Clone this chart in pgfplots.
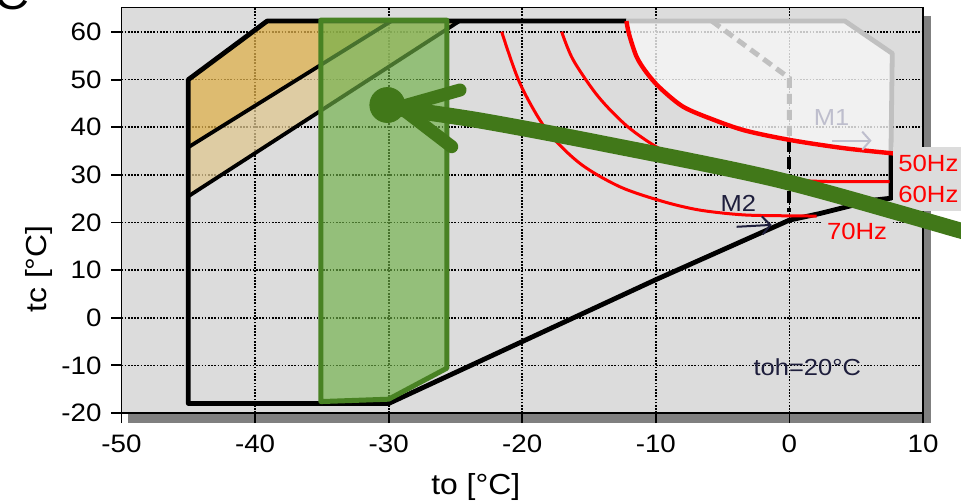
\documentclass[border=0pt]{standalone}
\usepackage{fontspec}
\setmainfont{Liberation Sans}[FakeStretch=1.1]
\usepackage{pgfplots}
\pgfplotsset{compat=1.18}
\usetikzlibrary{arrows.meta}
\definecolor{bgc}{RGB}{220,220,220}
\definecolor{shadowc}{RGB}{128,128,128}
\definecolor{orangeA}{RGB}{222,176,76}
\definecolor{tanB}{RGB}{224,199,145}
\definecolor{greenF}{RGB}{110,176,70}
\definecolor{greenE}{RGB}{72,130,35}
\definecolor{greenA}{RGB}{65,120,25}
\definecolor{grayL}{RGB}{192,192,192}
\definecolor{navy}{RGB}{30,30,60}
\definecolor{mone}{RGB}{190,190,205}
\begin{document}
\begin{tikzpicture}
\fill[shadowc] (3.25pt,-5pt) rectangle (404.75pt,198.5pt);
\begin{axis}[name=ax, at={(0,0)}, anchor=south west, scale only axis,
  width=400.75pt, height=202.75pt,
  xmin=-50, xmax=10, ymin=-20, ymax=65.15,
  xtick={-50,-40,...,10}, ytick={-20,-10,...,60},
  tick align=outside, xtick pos=bottom, ytick pos=left, major tick length=5pt,
  tick style={black, line width=0.9pt},
  axis line style={black, line width=0.9pt},
  axis background/.style={fill=bgc},
  grid=major, major grid style={black, line width=0.85pt, dash pattern=on 0.85pt off 0.75pt},
  /pgf/number format/assume math mode=true,
  ticklabel style={font=\fontsize{12.6}{14}\selectfont},
  xticklabel style={yshift=-2.5pt},
  yticklabel style={xshift=-1.5pt},
  xlabel={to [°C]}, ylabel={tc [°C]},
  label style={font=\fontsize{14.5}{16}\selectfont},
  xlabel style={at={(axis description cs:0.442,-0.2022)}, anchor=base},
  ylabel style={at={(axis description cs:-0.0933,0.355)}, anchor=base},
  clip=false,
]
% orange bands
\addplot[draw=none, fill=orangeA, fill opacity=0.75] coordinates {(-45,50) (-39.1,62.3) (-29.8,62.3) (-45,35.8)} -- cycle;
\addplot[draw=none, fill=tanB, fill opacity=0.75] coordinates {(-45,35.8) (-29.8,62.3) (-24.7,62.3) (-45,25.5)} -- cycle;
% light region above 50Hz
\addplot[draw=none, fill=white!97!black, fill opacity=0.8] coordinates {(-12.2,62.3) (4.16,62.3) (7.7,55.5) (7.6,34.5) (4.1,35.6) (0.1,37.3) (-3.3,39.3) (-5.7,41.6) (-7.95,44.3) (-9.7,48.3) (-10.7,51.5) (-11.44,54.8) (-12.0,59.5)} -- cycle;
% black envelope
\addplot[black, line width=2.4pt, line join=round] coordinates {(-12.2,62.3) (-39.1,62.3) (-45,50) (-45,-18) (-30,-18) (-20,-5) (-10,8) (0,20.5) (2.3,21.9) (6.3,24.7) (7.6,25.1) (7.6,34.4)};
\addplot[black, line width=1.9pt] coordinates {(-45,35.8) (-29.8,62.3)};
\addplot[black, line width=1.9pt] coordinates {(-45,25.5) (-24.7,62.3)};
% green box
\addplot[draw=greenE, line width=2.5pt, fill=greenF, fill opacity=0.65, line join=round] coordinates {(-35.08,62.5) (-25.65,62.5) (-25.65,-10.6) (-30,-17.1) (-33,-17.4) (-35.08,-17.6)} -- cycle;
% red 70Hz and 60Hz
\addplot[red, line width=1.5pt, smooth] coordinates {(-21.54,60.06) (-20.17,49.2) (-18.17,39.4) (-15.68,32.4) (-12.69,27.5) (-9.45,24.4) (-6.7,22.6) (-3.44,21.6) (0,21.4) (2.04,21.36)};
\addplot[red, line width=1.5pt, smooth] coordinates {(-17.05,60.06) (-16.18,54.1) (-14.3,46.4) (-12.1,40.1) (-9.6,35.3) (-6.8,31.9) (-3.3,29.7) (0.3,28.9) (3,28.6) (7.5,28.6)};
% gray envelope and dashed limits
\addplot[grayL, line width=2.4pt, line join=round] coordinates {(-12.2,62.3) (4.16,62.3) (7.7,55.5) (7.6,34.4)};
\addplot[grayL, line width=2.5pt, dash pattern=on 5pt off 3pt] coordinates {(-5.8,62.3) (0,50.3) (0,37.3)};
\addplot[black, line width=2pt, dash pattern=on 6pt off 2.5pt] coordinates {(0,37.3) (0,22.3)};
% red 50Hz
\addplot[red, line width=2.2pt, smooth] coordinates {(-12.2,62.3) (-12.0,59.5) (-11.44,54.8) (-10.7,51.5) (-9.7,48.3) (-7.95,44.3) (-5.7,41.6) (-3.3,39.3) (0.1,37.3) (4.1,35.6) (7.8,34.5)};
% M1, M2
\node[text=mone, font=\fontsize{11.6}{13}\selectfont] at (axis cs:3.16,42.1) {M1};
\addplot[mone, line width=1pt, -{Straight Barb[length=4pt,width=9pt]}] coordinates {(3.16,37.18) (6.15,37.18)};
\node[text=navy, font=\fontsize{11.6}{13}\selectfont] at (axis cs:-3.83,24.0) {M2};
\addplot[navy, line width=1pt, -{Straight Barb[length=4pt,width=9pt]}] coordinates {(-3.95,19.1) (-1.33,19.5)};
\node[text=navy, font=\fontsize{11.6}{13}\selectfont] at (axis cs:1.34,-10.28) {toh=20°C};
% Hz labels
\node[fill=bgc, text=red, anchor=west, inner xsep=2.5pt, inner ysep=0pt, minimum height=16.2pt, font=\fontsize{11.7}{13}\selectfont] at (axis cs:7.75,32.5) {50Hz\hspace{3pt}};
\node[fill=bgc, text=red, anchor=west, inner xsep=2.5pt, inner ysep=0pt, minimum height=16.2pt, font=\fontsize{11.7}{13}\selectfont] at (axis cs:7.75,25.8) {60Hz\hspace{3pt}};
\node[fill=bgc, text=red, anchor=west, inner xsep=2.5pt, inner ysep=0pt, minimum height=15.3pt, font=\fontsize{11.7}{13}\selectfont] at (axis cs:2.41,18.1) {70Hz\hspace{6pt}};
% green arrow
\addplot[greenA, line width=8pt, line cap=round, smooth] coordinates {(-28.9,43.8) (-23.17,41.42) (-14.18,36.69) (-0.71,28.88) (12.84,18.28) (14,17.3)};
\addplot[greenA, line width=6.5pt, line cap=round, line join=round] coordinates {(-24.66,47.82) (-29.15,44.25) (-25.28,35.92)};
\addplot[greenA, only marks, mark=*, mark size=8.75pt, mark options={fill=greenA, draw=greenA}] coordinates {(-30.1,44.67)};
\end{axis}
\node[anchor=base west, inner sep=0pt, font=\fontsize{22}{22}\selectfont] at (-63.75pt,201.5pt) {C};
\pgfresetboundingbox
\useasboundingbox (-60.75pt,-44.5pt) rectangle (419.75pt,206.5pt);
\end{tikzpicture}
\end{document}
